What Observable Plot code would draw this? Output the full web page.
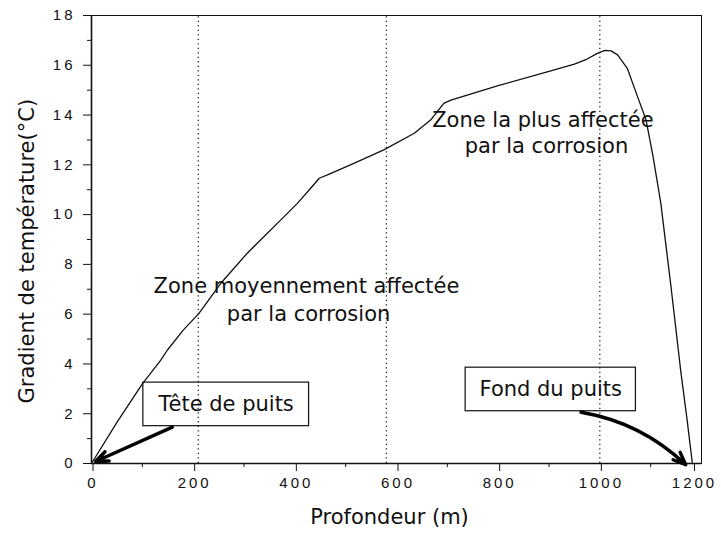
<!DOCTYPE html>
<html><head><meta charset="utf-8">
<script src="https://cdn.jsdelivr.net/npm/d3@7"></script>
<script src="https://cdn.jsdelivr.net/npm/@observablehq/plot@0.6"></script>
<style>
body{margin:0;background:#fff}
svg [aria-label$="tick label"] text{letter-spacing:3px}
</style>
</head><body><div id="chart"></div>
<script>
// Courbe : gradient de température en fonction de la profondeur
const depth    = [0, 50, 100, 136, 149, 180, 211, 254, 306, 372, 405, 435, 448, 470, 516, 575, 635, 667, 693, 707, 800, 900, 950, 975, 995, 1010, 1022, 1035, 1054, 1074, 1091, 1105, 1120, 1140, 1159, 1172, 1182];
const gradient = [0, 1.65, 3.2, 4.14, 4.55, 5.35, 6.02, 7.23, 8.44, 9.78, 10.45, 11.15, 11.46, 11.65, 12.06, 12.6, 13.27, 13.8, 14.47, 14.6, 15.18, 15.76, 16.05, 16.25, 16.48, 16.6, 16.58, 16.42, 15.88, 14.75, 13.8, 12.3, 10.45, 7.1, 3.74, 1.7, 0];

// Graduations
const xTicks = [0, 200, 400, 600, 800, 1000];
const xLastTick = [1200];
const xMinor = [100, 300, 500, 700, 900, 1100];
const yTicks = [0, 2, 4, 6, 8, 10, 12, 14, 16, 18];
const yMinor = [1, 3, 5, 7, 9, 11, 13, 15, 17];

// Limites de zones (lignes pointillées)
const zoneLimits = [210, 580, 1000];

// Annotations de zones
const zoneText = ["Zone moyennement affectée", "par la corrosion", "Zone la plus affectée", "par la corrosion"];
const zoneX = [423, 427, 888, 895];
const zoneY = [7.13, 6.0, 13.8, 12.73];

// Encadrés
const boxText = ["Tête de puits", "Fond du puits"];
const boxX1 = [102, 736];
const boxX2 = [428, 1071];
const boxY1 = [1.5, 2.1];
const boxY2 = [3.25, 3.85];

// Flèches
const arrowX1 = [159, 963];
const arrowY1 = [1.46, 2.06];
const arrowX2 = [8, 1169];
const arrowY2 = [0.08, -0.05];

const idx = (a) => a.map((_, i) => i);
const F = "DejaVu Sans";
const fmt = (d) => String(d);

const chart = Plot.plot({
  width: 721,
  height: 544,
  marginLeft: 91,
  marginRight: 20,
  marginTop: 15,
  marginBottom: 81,
  style: {fontFamily: "Liberation Sans, Arial, sans-serif", fontSize: "15px", color: "#111", background: "#fff"},
  x: {domain: [0, 1200]},
  y: {domain: [0, 18]},
  marks: [
    Plot.ruleX(zoneLimits, {y1: 0, y2: 18, stroke: "#111", strokeWidth: 1.2, strokeDasharray: "1.3,3.2"}),
    Plot.line(idx(depth), {x: (i) => depth[i], y: (i) => gradient[i], stroke: "#111", strokeWidth: 1.3}),
    Plot.frame({stroke: "#111", strokeWidth: 1}),
    Plot.ruleX([0], {stroke: "#111", strokeWidth: 1.6}),
    Plot.ruleY([0], {stroke: "#111", strokeWidth: 1.6}),
    Plot.axisX({ticks: xTicks, tickSize: 8, tickPadding: 6, tickFormat: fmt, label: null, dx: 1.5}),
    Plot.axisX({ticks: xLastTick, tickSize: 8, tickPadding: 6, tickFormat: fmt, label: null, dx: -7}),
    Plot.axisX({ticks: xMinor, tickSize: 4, tickFormat: () => "", label: null}),
    Plot.axisY({ticks: yTicks, tickSize: 8, tickPadding: 8, tickFormat: fmt, label: null}),
    Plot.axisY({ticks: yMinor, tickSize: 4, tickFormat: () => "", label: null}),
    Plot.rect(idx(boxText), {x1: (i) => boxX1[i], x2: (i) => boxX2[i], y1: (i) => boxY1[i], y2: (i) => boxY2[i], fill: "none", stroke: "#111", strokeWidth: 1.2}),
    Plot.text(idx(boxText), {x: (i) => (boxX1[i] + boxX2[i]) / 2, y: (i) => (boxY1[i] + boxY2[i]) / 2, text: (i) => boxText[i], fontFamily: F, fontSize: 21, fill: "#111"}),
    Plot.text(idx(zoneText), {x: (i) => zoneX[i], y: (i) => zoneY[i], text: (i) => zoneText[i], fontFamily: F, fontSize: 21, fill: "#111", style: "letter-spacing:0.5px"}),
    Plot.arrow([0], {x1: (i) => arrowX1[i], y1: (i) => arrowY1[i], x2: (i) => arrowX2[i], y2: (i) => arrowY2[i], stroke: "#000", strokeWidth: 3.4, headLength: 6, headAngle: 44}),
    Plot.arrow([1], {x1: (i) => arrowX1[i], y1: (i) => arrowY1[i], x2: (i) => arrowX2[i], y2: (i) => arrowY2[i], bend: 17, stroke: "#000", strokeWidth: 3.4, headLength: 6, headAngle: 44}),
    Plot.text(["Profondeur (m)"], {frameAnchor: "bottom", dy: 60, dx: -7, fontFamily: F, fontSize: 21, fill: "#111"}),
    Plot.text(["Gradient de température(°C)"], {frameAnchor: "left", textAnchor: "middle", y: () => 8.53, dx: -64, rotate: -90, fontFamily: F, fontSize: 21, fill: "#111"})
  ]
});
document.getElementById("chart").append(chart);
</script>
</body></html>
